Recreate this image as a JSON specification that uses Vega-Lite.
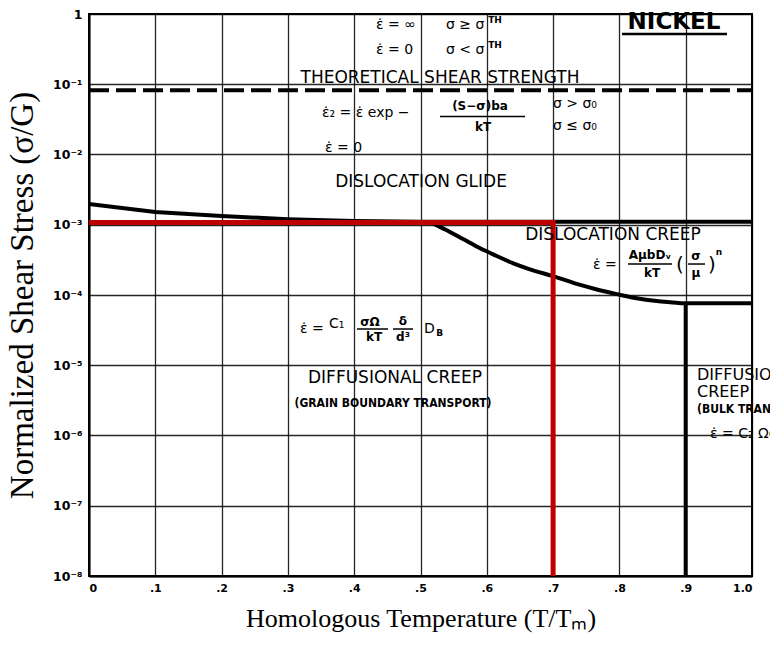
{
  "$schema": "https://vega.github.io/schema/vega-lite/v6.json",
  "width": 663,
  "height": 562,
  "autosize": {"type": "none"},
  "padding": {"left": 89, "top": 14, "right": 18, "bottom": 71},
  "background": "white",
  "config": {
    "view": {"stroke": "black", "strokeWidth": 2},
    "axis": {
      "domainColor": "black", "domainWidth": 2,
      "gridColor": "black", "gridWidth": 1.3, "gridOpacity": 0.85,
      "ticks": false, "labelColor": "black", "titleColor": "black",
      "labelFont": "DejaVu Sans", "labelFontWeight": "bold", "labelFontSize": 11,
      "titleFont": "Liberation Serif", "titleFontWeight": "normal"
    }
  },
  "datasets": {
    "glide": [
      {"t": 0.0, "s": 0.00197}, {"t": 0.1, "s": 0.00152}, {"t": 0.2, "s": 0.00133},
      {"t": 0.3, "s": 0.0012}, {"t": 0.4, "s": 0.00113}, {"t": 0.5, "s": 0.0011},
      {"t": 1.0, "s": 0.0011}
    ],
    "creep": [
      {"t": 0.514, "s": 0.0011}, {"t": 0.539, "s": 0.00084}, {"t": 0.565, "s": 0.00062},
      {"t": 0.59, "s": 0.000462}, {"t": 0.615, "s": 0.000359}, {"t": 0.64, "s": 0.000282},
      {"t": 0.665, "s": 0.000232}, {"t": 0.7, "s": 0.000186}, {"t": 0.741, "s": 0.000139},
      {"t": 0.766, "s": 0.00012}, {"t": 0.796, "s": 0.000103}, {"t": 0.826, "s": 0.0000897},
      {"t": 0.856, "s": 0.000082}, {"t": 0.886, "s": 0.0000777}, {"t": 0.896, "s": 0.000076},
      {"t": 1.0, "s": 0.000076}
    ],
    "bulk": [{"t": 0.9, "s": 0.000076}, {"t": 0.9, "s": 1e-8}],
    "theory": [{"t": 0.0, "s": 0.082}, {"t": 1.0, "s": 0.082}],
    "red": [
      {"i": 0, "t": 0.0, "s": 0.00108}, {"i": 1, "t": 0.7, "s": 0.00108}, {"i": 2, "t": 0.7, "s": 1e-8}
    ],
    "bars": [
      {"t": 0.5294, "t2": 0.6576, "s": 0.03475},
      {"t": 0.813, "t2": 0.8793, "s": 0.000276},
      {"t": 0.9035, "t2": 0.9291, "s": 0.000276},
      {"t": 0.4042, "t2": 0.451, "s": 0.0000328},
      {"t": 0.4585, "t2": 0.4887, "s": 0.0000328}
    ],
    "underline": [{"t": 0.804, "t2": 0.9623, "s": 0.519}],
    "bigCenter": [
      {"t": 0.5294, "s": 0.1227, "label": "THEORETICAL SHEAR STRENGTH"},
      {"t": 0.5008, "s": 0.00406, "label": "DISLOCATION GLIDE"},
      {"t": 0.7903, "s": 0.000715, "label": "DISLOCATION CREEP"},
      {"t": 0.4615, "s": 0.00000659, "label": "DIFFUSIONAL CREEP"}
    ],
    "bigLeft": [
      {"t": 0.917, "s": 0.00000726, "label": "DIFFUSIONAL"},
      {"t": 0.917, "s": 0.00000416, "label": "CREEP"}
    ],
    "smallCenter": [
      {"t": 0.4585, "s": 0.0000029, "label": "(GRAIN BOUNDARY TRANSPORT)"}
    ],
    "smallLeft": [
      {"t": 0.917, "s": 0.00000238, "label": "(BULK TRANSPORT)"}
    ],
    "eqLeft": [
      {"t": 0.4329, "s": 0.697, "label": "ε̇ = ∞"},
      {"t": 0.5385, "s": 0.697, "label": "σ ≥ σ"},
      {"t": 0.4329, "s": 0.3074, "label": "ε̇ = 0"},
      {"t": 0.5385, "s": 0.3074, "label": "σ < σ"},
      {"t": 0.3514, "s": 0.039, "label": "ε̇₂ = ε̇ exp −"},
      {"t": 0.356, "s": 0.01238, "label": "ε̇ = 0"},
      {"t": 0.6998, "s": 0.0524, "label": "σ > σ₀"},
      {"t": 0.6998, "s": 0.02545, "label": "σ ≤ σ₀"},
      {"t": 0.3183, "s": 0.0000328, "label": "ε̇ ="},
      {"t": 0.362, "s": 0.0000386, "label": "C₁"},
      {"t": 0.5053, "s": 0.0000328, "label": "D"},
      {"t": 0.76, "s": 0.000267, "label": "ε̇ ="},
      {"t": 0.9367, "s": 0.00000105, "label": "ε̇ = C₂ ΩσDᵥ/kTd²"}
    ],
    "eqCenter": [
      {"t": 0.5897, "s": 0.049, "label": "(S−σ)ba"},
      {"t": 0.5943, "s": 0.0246, "label": "kT"},
      {"t": 0.8462, "s": 0.000371, "label": "AμbDᵥ"},
      {"t": 0.8492, "s": 0.000206, "label": "kT"},
      {"t": 0.9155, "s": 0.000359, "label": "σ"},
      {"t": 0.9155, "s": 0.000206, "label": "μ"},
      {"t": 0.4238, "s": 0.0000413, "label": "σΩ"},
      {"t": 0.4299, "s": 0.0000252, "label": "kT"},
      {"t": 0.4736, "s": 0.0000427, "label": "δ"},
      {"t": 0.4736, "s": 0.0000252, "label": "d³"}
    ],
    "eqSmall": [
      {"t": 0.529, "s": 0.0000285, "label": "B"},
      {"t": 0.9502, "s": 0.000409, "label": "n"},
      {"t": 0.6124, "s": 0.821, "label": "TH"},
      {"t": 0.6124, "s": 0.362, "label": "TH"}
    ],
    "parens": [
      {"t": 0.8914, "s": 0.000267, "label": "("},
      {"t": 0.9397, "s": 0.000267, "label": ")"}
    ],
    "title": [{"t": 0.8824, "s": 0.769, "label": "NICKEL"}]
  },
  "encoding": {
    "x": {
      "field": "t", "type": "quantitative",
      "scale": {"domain": [0, 1], "nice": false, "zero": false},
      "axis": {
        "title": "Homologous Temperature (T/Tₘ)", "titleFontSize": 26, "titlePadding": 12,
        "values": [0, 0.1, 0.2, 0.3, 0.4, 0.5, 0.6, 0.7, 0.8, 0.9, 1.0],
        "labelExpr": "datum.value == 0 ? '0' : datum.value >= 1 ? '1.0' : '.' + round(datum.value * 10)",
        "labelPadding": 6, "grid": true
      }
    },
    "y": {
      "field": "s", "type": "quantitative",
      "scale": {"type": "log", "domain": [1e-8, 1], "nice": false},
      "axis": {
        "title": "Normalized Shear Stress (σ/G)", "titleFontSize": 33, "titlePadding": 13,
        "values": [1e-8, 1e-7, 1e-6, 1e-5, 1e-4, 1e-3, 1e-2, 1e-1, 1],
        "labelExpr": "datum.value >= 0.999 ? '1' : '10⁻' + ['','¹','²','³','⁴','⁵','⁶','⁷','⁸'][round(-log(datum.value) / LN10)]",
        "labelFontSize": 12.5, "labelPadding": 7, "grid": true
      }
    }
  },
  "layer": [
    {"data": {"name": "theory"}, "mark": {"type": "line", "color": "black", "strokeWidth": 4, "strokeDash": [20, 7]}},
    {"data": {"name": "glide"}, "mark": {"type": "line", "color": "black", "strokeWidth": 4}},
    {"data": {"name": "creep"}, "mark": {"type": "line", "color": "black", "strokeWidth": 4, "interpolate": "monotone"}},
    {"data": {"name": "bulk"}, "mark": {"type": "line", "color": "black", "strokeWidth": 4}},
    {"data": {"name": "red"}, "mark": {"type": "line", "color": "#c00000", "strokeWidth": 5}, "encoding": {"order": {"field": "i", "type": "quantitative"}}},
    {"data": {"name": "bars"}, "mark": {"type": "rule", "color": "black", "strokeWidth": 1.5}, "encoding": {"x2": {"field": "t2"}}},
    {"data": {"name": "underline"}, "mark": {"type": "rule", "color": "black", "strokeWidth": 2.5}, "encoding": {"x2": {"field": "t2"}}},
    {"data": {"name": "bigCenter"}, "mark": {"type": "text", "font": "DejaVu Sans", "fontSize": 17, "align": "center", "baseline": "middle", "color": "black"}, "encoding": {"text": {"field": "label"}}},
    {"data": {"name": "bigLeft"}, "mark": {"type": "text", "font": "DejaVu Sans", "fontSize": 16, "align": "left", "baseline": "middle", "color": "black"}, "encoding": {"text": {"field": "label"}}},
    {"data": {"name": "smallCenter"}, "mark": {"type": "text", "font": "DejaVu Sans Condensed", "fontWeight": "bold", "fontSize": 12, "align": "center", "baseline": "middle", "color": "black"}, "encoding": {"text": {"field": "label"}}},
    {"data": {"name": "smallLeft"}, "mark": {"type": "text", "font": "DejaVu Sans Condensed", "fontWeight": "bold", "fontSize": 12, "align": "left", "baseline": "middle", "color": "black"}, "encoding": {"text": {"field": "label"}}},
    {"data": {"name": "eqLeft"}, "mark": {"type": "text", "font": "DejaVu Sans", "fontSize": 14, "align": "left", "baseline": "middle", "color": "black"}, "encoding": {"text": {"field": "label"}}},
    {"data": {"name": "eqCenter"}, "mark": {"type": "text", "font": "DejaVu Sans", "fontSize": 12, "fontWeight": "bold", "align": "center", "baseline": "middle", "color": "black"}, "encoding": {"text": {"field": "label"}}},
    {"data": {"name": "eqSmall"}, "mark": {"type": "text", "font": "DejaVu Sans", "fontSize": 9, "fontWeight": "bold", "align": "center", "baseline": "middle", "color": "black"}, "encoding": {"text": {"field": "label"}}},
    {"data": {"name": "parens"}, "mark": {"type": "text", "font": "DejaVu Sans", "fontSize": 20, "align": "center", "baseline": "middle", "color": "black"}, "encoding": {"text": {"field": "label"}}},
    {"data": {"name": "title"}, "mark": {"type": "text", "font": "DejaVu Sans", "fontSize": 23, "fontWeight": "bold", "align": "center", "baseline": "middle", "color": "black"}, "encoding": {"text": {"field": "label"}}}
  ]
}
